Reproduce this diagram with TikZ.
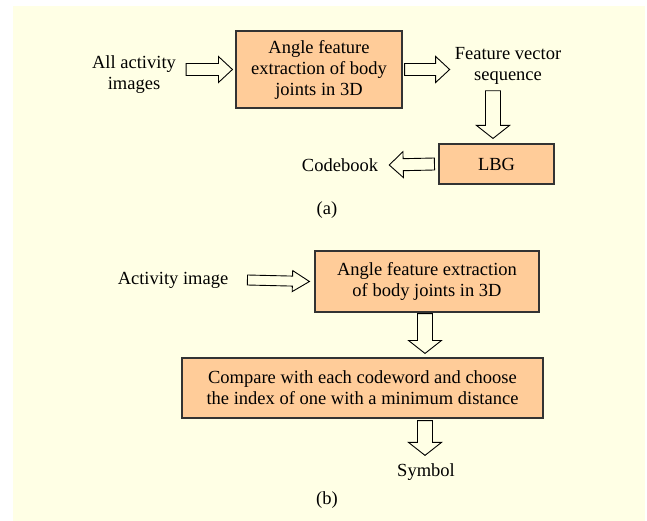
\documentclass[tikz,border=0pt]{standalone}
\usepackage{fontspec}
\setmainfont{Liberation Serif}
\usetikzlibrary{calc}
\definecolor{bgyellow}{HTML}{FFFFE5}
\definecolor{boxfill}{HTML}{FFCC99}
\begin{document}
\begin{tikzpicture}[x=1pt,y=-1pt,font=\fontsize{18.5}{21}\selectfont,
  fat/.style n args={3}{draw=black,line width=0.9pt,fill=bgyellow,to path={
    ($(\tikztostart)!#1!90:(\tikztotarget)$)
    -- ($($(\tikztotarget)!#3!(\tikztostart)$)!#1!90:(\tikztotarget)$)
    -- ($($(\tikztotarget)!#3!(\tikztostart)$)!#2!90:(\tikztotarget)$)
    -- (\tikztotarget)
    -- ($($(\tikztotarget)!#3!(\tikztostart)$)!#2!-90:(\tikztotarget)$)
    -- ($($(\tikztotarget)!#3!(\tikztostart)$)!#1!-90:(\tikztotarget)$)
    -- ($(\tikztostart)!#1!-90:(\tikztotarget)$) -- cycle}}]
        \tikzstyle{stage}=[draw=black!80,line width=1.1pt,fill=boxfill,align=center,inner sep=2pt]
        \tikzstyle{label}=[align=center,inner sep=2pt]
        \useasboundingbox (0,0) rectangle (647,521);
        \fill[bgyellow] (13,6) rectangle (645,521);

       % (a) codebook generation
       \begin{scope}
         \node [stage,minimum width=166pt,minimum height=77pt] (angA) at (319,69.5) {Angle feature\\extraction of body\\joints in 3D};
         \node [stage,minimum width=115pt,minimum height=40pt] (lbg) at (496.5,164) {LBG};
         \node [label] (allimg) at (134,75) {All activity\\images};
         \node [label] (featvec) at (508,66) {Feature vector\\sequence};
         \node [label] (codebook) at (340,165) {Codebook};
         \node [label] (capa) at (327,210) {(a)};

         \draw[fat={6pt}{13pt}{14pt}] ($(allimg.east |- angA.west)+(8,0)$) to ($(angA.west)+(-3,0)$);
         \draw[fat={6pt}{13pt}{14pt}] ($(angA.east)+(2,0)$) to ($(angA.east -| featvec.west)+(-3,0)$);
         \draw[fat={7.5pt}{16.5pt}{13pt}] ($(lbg.north |- featvec.south)+(-3.5,4)$) to ($(lbg.north)+(-3.5,-5)$);
         \draw[fat={6pt}{13pt}{14pt}] ($(lbg.west)+(-4,0)$) to ($(codebook.east)+(9,0)$);
       \end{scope}

       % (b) symbol assignment
       \begin{scope}
         \node [stage,minimum width=224pt,minimum height=61pt] (angB) at (427,281.5) {Angle feature extraction\\of body joints in 3D};
         \node [stage,minimum width=361pt,minimum height=60pt] (cmp) at (362.5,388) {Compare with each codeword and choose\\the index of one with a minimum distance};
         \node [label] (actimg) at (173,280) {Activity image};
         \node [label] (symbol) at (426,472) {Symbol};
         \node [label] (capb) at (327,500) {(b)};

         \draw[fat={5pt}{10.5pt}{17pt}] ($(actimg.east)+(17,0)$) to ($(angB.west)+(-5,0)$);
         \draw[fat={7.5pt}{16.5pt}{13pt}] ($(angB.south)+(-2,1)$) to ($(angB.south |- cmp.north)+(-2,-4)$);
         \draw[fat={7.5pt}{16.5pt}{13pt}] ($(symbol.north |- cmp.south)+(-1,2)$) to ($(symbol.north)+(-1,-6)$);
       \end{scope}
\end{tikzpicture}
\end{document}
